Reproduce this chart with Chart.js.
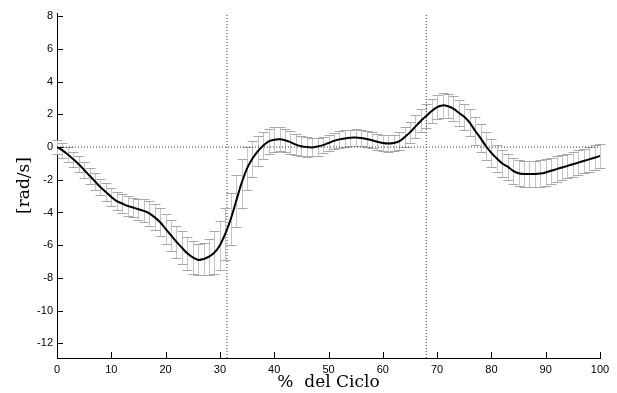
<!DOCTYPE html>
<html>
<head>
<meta charset="utf-8">
<script src="https://cdn.jsdelivr.net/npm/chart.js@4/dist/chart.umd.min.js"></script>
<style>
  html, body { margin: 0; padding: 0; background: #fff; }
  #wrap { width: 617px; height: 393px; position: relative; }
</style>
</head>
<body>
<div id="wrap"><canvas id="cycleChart"></canvas></div>
<script>
// angular velocity over the gait cycle: mean (black) and SD bars (grey), 1% steps
const MEAN = [
  0, -0.2, -0.45, -0.75, -1.05, -1.4, -1.75, -2.1, -2.45, -2.75,
  -3.05, -3.3, -3.45, -3.6, -3.7, -3.8, -3.9, -4.05, -4.3, -4.6,
  -5.0, -5.4, -5.8, -6.15, -6.5, -6.75, -6.9, -6.85, -6.7, -6.45,
  -6.0, -5.3, -4.4, -3.3, -2.2, -1.3, -0.7, -0.25, 0.1, 0.35,
  0.45, 0.48, 0.42, 0.3, 0.15, 0.05, 0.0, -0.02, 0.03, 0.12,
  0.25, 0.38, 0.47, 0.53, 0.57, 0.58, 0.55, 0.5, 0.42, 0.32,
  0.25, 0.22, 0.25, 0.35, 0.6, 0.9, 1.25, 1.6, 1.9, 2.2,
  2.45, 2.55, 2.5, 2.35, 2.1, 1.85, 1.5, 1.0, 0.55, 0.05,
  -0.35, -0.7, -1.0, -1.2, -1.45, -1.6, -1.65, -1.65, -1.65, -1.62,
  -1.55, -1.45, -1.35, -1.25, -1.15, -1.05, -0.95, -0.85, -0.75, -0.65, -0.55
];
const SD = [
  0.45, 0.45, 0.45, 0.45, 0.5, 0.5, 0.5, 0.5, 0.5, 0.55,
  0.55, 0.55, 0.6, 0.6, 0.6, 0.65, 0.7, 0.75, 0.8, 0.85,
  0.9, 0.95, 1.0, 1.0, 1.0, 1.0, 0.95, 1.0, 1.1, 1.3,
  1.5, 1.6, 1.6, 1.6, 1.5, 1.3, 1.1, 0.9, 0.8, 0.75,
  0.75, 0.75, 0.7, 0.7, 0.65, 0.6, 0.6, 0.55, 0.55, 0.5,
  0.5, 0.5, 0.5, 0.5, 0.5, 0.5, 0.5, 0.5, 0.5, 0.5,
  0.5, 0.5, 0.5, 0.55, 0.6, 0.65, 0.7, 0.7, 0.75, 0.75,
  0.75, 0.75, 0.75, 0.75, 0.8, 0.8, 0.85, 0.85, 0.85, 0.85,
  0.85, 0.85, 0.8, 0.8, 0.8, 0.8, 0.8, 0.8, 0.8, 0.8,
  0.8, 0.8, 0.78, 0.76, 0.75, 0.75, 0.75, 0.75, 0.75, 0.75, 0.75
];
const CYCLE_PCT = MEAN.map(function (_, i) { return i; });
const PHASE_MARKS = [31.3, 68];
const X_TICKS = [0, 10, 20, 30, 40, 50, 60, 70, 80, 90, 100];
const Y_TICKS = [-12, -10, -8, -6, -4, -2, 0, 2, 4, 6, 8];
const Y_MIN = -12.9, Y_MAX = 8.2;

var meanPts = CYCLE_PCT.map(function (x, i) { return { x: x, y: MEAN[i] }; });

var dotted = { borderColor: '#333', borderWidth: 1, borderDash: [1, 2], pointRadius: 0, fill: false };
var refSets = PHASE_MARKS.map(function (x) {
  return Object.assign({ data: [{ x: x, y: Y_MIN }, { x: x, y: Y_MAX }] }, dotted);
});
refSets.push(Object.assign({ data: [{ x: 0, y: 0 }, { x: 100, y: 0 }] }, dotted));

// SD whiskers with caps, drawn under the lines
var errorBars = {
  id: 'errorBars',
  beforeDatasetsDraw: function (chart) {
    var xs = chart.scales.x, ys = chart.scales.y, ctx = chart.ctx;
    var stems = new Path2D(), caps = new Path2D();
    CYCLE_PCT.forEach(function (x, i) {
      var px = Math.round(xs.getPixelForValue(x)) + 0.5;
      var top = Math.round(ys.getPixelForValue(MEAN[i] + SD[i])) + 0.5;
      var bot = Math.round(ys.getPixelForValue(MEAN[i] - SD[i])) + 0.5;
      stems.moveTo(px, top); stems.lineTo(px, bot);
      caps.moveTo(px - 5, top); caps.lineTo(px + 5, top);
      caps.moveTo(px - 5, bot); caps.lineTo(px + 5, bot);
    });
    ctx.save();
    ctx.lineWidth = 1;
    ctx.strokeStyle = '#c4c4c4';
    ctx.stroke(stems);
    ctx.strokeStyle = '#a8a8a8';
    ctx.stroke(caps);
    ctx.restore();
  }
};

// tick marks point into the plot
var innerTicks = {
  id: 'innerTicks',
  afterDraw: function (chart) {
    var xs = chart.scales.x, ys = chart.scales.y, a = chart.chartArea, ctx = chart.ctx;
    ctx.save();
    ctx.strokeStyle = '#000';
    ctx.lineWidth = 1;
    ctx.beginPath();
    X_TICKS.forEach(function (v) {
      var px = Math.round(xs.getPixelForValue(v)) + 0.5;
      ctx.moveTo(px, a.bottom); ctx.lineTo(px, a.bottom - 6);
    });
    Y_TICKS.forEach(function (v) {
      var py = Math.round(ys.getPixelForValue(v)) + 0.5;
      ctx.moveTo(a.left, py); ctx.lineTo(a.left + 6, py);
    });
    ctx.stroke();
    ctx.restore();
  }
};

var titleFont = { family: 'DejaVu Serif', size: 17 };
var tickFont = { family: 'Liberation Sans', size: 11 };

new Chart(document.getElementById('cycleChart'), {
  type: 'line',
  data: {
    datasets: refSets.concat([{
      data: meanPts,
      borderColor: '#000', borderWidth: 2, pointRadius: 0, tension: 0.3, fill: false
    }])
  },
  options: {
    responsive: true, maintainAspectRatio: false, animation: false,
    layout: { padding: { left: 0, top: 13, right: 17, bottom: 0 } },
    plugins: { legend: { display: false }, tooltip: { enabled: false } },
    scales: {
      x: {
        type: 'linear', min: 0, max: 100,
        afterBuildTicks: function (s) { s.ticks = X_TICKS.map(function (v) { return { value: v }; }); },
        afterFit: function (s) { s.height = 35; },
        grid: { display: false, drawTicks: false },
        border: { display: true, color: '#000', width: 1 },
        ticks: { color: '#000', font: tickFont, padding: 5, maxRotation: 0 },
        title: { display: true, text: '%  del Ciclo', color: '#000', font: titleFont, padding: { top: 0, bottom: 0 } }
      },
      y: {
        type: 'linear', min: Y_MIN, max: Y_MAX,
        afterBuildTicks: function (s) { s.ticks = Y_TICKS.map(function (v) { return { value: v }; }); },
        afterFit: function (s) { s.width = 57; },
        grid: { display: false, drawTicks: false },
        border: { display: true, color: '#000', width: 1 },
        ticks: { color: '#000', font: tickFont, padding: 4 },
        title: { display: true, text: '[rad/s]', color: '#000', font: titleFont, padding: { top: 14, bottom: 0 } }
      }
    }
  },
  plugins: [errorBars, innerTicks]
});
</script>
</body>
</html>
